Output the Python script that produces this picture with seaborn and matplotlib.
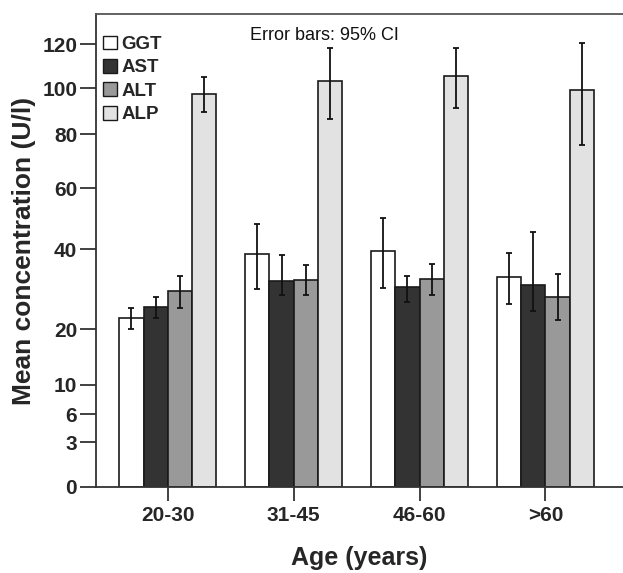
import numpy as np
import pandas as pd
import matplotlib
matplotlib.use("Agg")
import matplotlib.pyplot as plt
import seaborn as sns
from matplotlib.patches import Patch

# ---- data ----
ages = ["20-30", "31-45", "46-60", ">60"]
enzymes = ["GGT", "AST", "ALT", "ALP"]
ggt_mean = [22.8, 38.8, 39.6, 33.0]
ggt_lo = [20.0, 30.2, 30.4, 26.2]
ggt_hi = [25.4, 48.2, 50.3, 39.2]
ast_mean = [25.5, 32.0, 30.5, 31.0]
ast_lo = [22.8, 28.7, 26.7, 24.6]
ast_hi = [28.0, 38.6, 33.4, 45.7]
alt_mean = [29.6, 32.4, 32.5, 28.0]
alt_lo = [25.4, 28.5, 28.6, 22.2]
alt_hi = [33.4, 36.0, 36.3, 33.8]
alp_mean = [97.3, 103.0, 105.3, 99.0]
alp_lo = [89.4, 86.5, 91.4, 75.9]
alp_hi = [105.1, 118.3, 118.3, 120.4]
yticks = [0, 3, 6, 10, 20, 40, 60, 80, 100, 120]

means = {"GGT": ggt_mean, "AST": ast_mean, "ALT": alt_mean, "ALP": alp_mean}
los = {"GGT": ggt_lo, "AST": ast_lo, "ALT": alt_lo, "ALP": alp_lo}
his = {"GGT": ggt_hi, "AST": ast_hi, "ALT": alt_hi, "ALP": alp_hi}

rows = []
for e in enzymes:
    for i, a in enumerate(ages):
        rows.append({"age": a, "enzyme": e, "value": means[e][i]})
df = pd.DataFrame(rows)

# ---- non-linear axis scale (as in original) ----
_sv = np.array([-1000, 0, 3, 6, 10, 20, 40, 60, 80, 100, 120, 140, 1000], float)
_sp = np.array([-14900, 0, 44.7, 72.7, 102.4, 157.7, 237.4, 298.7, 352.7, 398.7, 442.7, 486.7, 486.7 + 860 * 2.2])

def fwd(v):
    return np.interp(v, _sv, _sp)

def inv(p):
    return np.interp(p, _sp, _sv)

sns.set_theme(style="white")
plt.rcParams["font.family"] = ["Liberation Sans", "DejaVu Sans"]

fig = plt.figure(figsize=(6.23, 5.73), dpi=100)
ax = fig.add_axes([96 / 623, 1 - 487 / 573, 1 - 96 / 623, (487 - 14) / 573])
ax.set_yscale("function", functions=(fwd, inv))

palette = {"GGT": "#ffffff", "AST": "#333333", "ALT": "#999999", "ALP": "#e2e2e2"}
sns.barplot(data=df, x="age", y="value", hue="enzyme", order=ages, hue_order=enzymes,
            palette=palette, errorbar=None, width=0.77, edgecolor="#1a1a1a",
            linewidth=1.2, ax=ax, legend=False)

for cont, e in zip(ax.containers, enzymes):
    xs = [b.get_x() + b.get_width() / 2 for b in cont]
    m = np.array(means[e]); lo = np.array(los[e]); hi = np.array(his[e])
    ax.errorbar(xs, m, yerr=[m - lo, hi - m], fmt="none", ecolor="#111111",
                elinewidth=1.3, capsize=2.5, capthick=1.3, zorder=5)

ax.set_ylim(0, inv(472.7))
ax.set_xlim(-0.57, 3.616)
ax.set_yticks(yticks)
ax.set_yticklabels([str(t) for t in yticks])
ax.minorticks_off()

for s in ["left", "bottom", "top"]:
    ax.spines[s].set_color("#333333")
    ax.spines[s].set_linewidth(1.3)
ax.spines["top"].set_color("#555555")
ax.spines["right"].set_visible(False)

ax.tick_params(axis="y", which="major", direction="out", length=11.5, width=1.3,
               color="#333333", pad=2, left=True, labelsize=15)
ax.tick_params(axis="x", which="major", direction="out", length=10, width=1.3,
               color="#333333", pad=4, bottom=True, labelsize=15)
for lab in ax.get_xticklabels() + ax.get_yticklabels():
    lab.set_fontweight("bold")

ax.set_xlabel("Age (years)", fontsize=18, fontweight="bold")
ax.set_ylabel("Mean concentration (U/l)", fontsize=19, fontweight="bold")
ax.yaxis.set_label_coords(-0.114, 0.5)
ax.xaxis.set_label_coords(0.5, -0.125)

handles = [Patch(facecolor=palette[e], edgecolor="#1a1a1a", linewidth=1.0, label=e) for e in enzymes]
leg = ax.legend(handles=handles, loc="upper left", bbox_to_anchor=(-0.011, 0.982),
                frameon=False, prop={"weight": "bold", "size": 13.5},
                handlelength=0.75, handleheight=0.75, handletextpad=0.2,
                labelspacing=0.32, borderaxespad=0.3)

ax.text((250 - 96) / 527, 1 - (35 - 14) / 473, "Error bars: 95% CI", transform=ax.transAxes,
        fontsize=13, ha="left", va="center", color="#111111")

fig.savefig("out.png", dpi=100)
